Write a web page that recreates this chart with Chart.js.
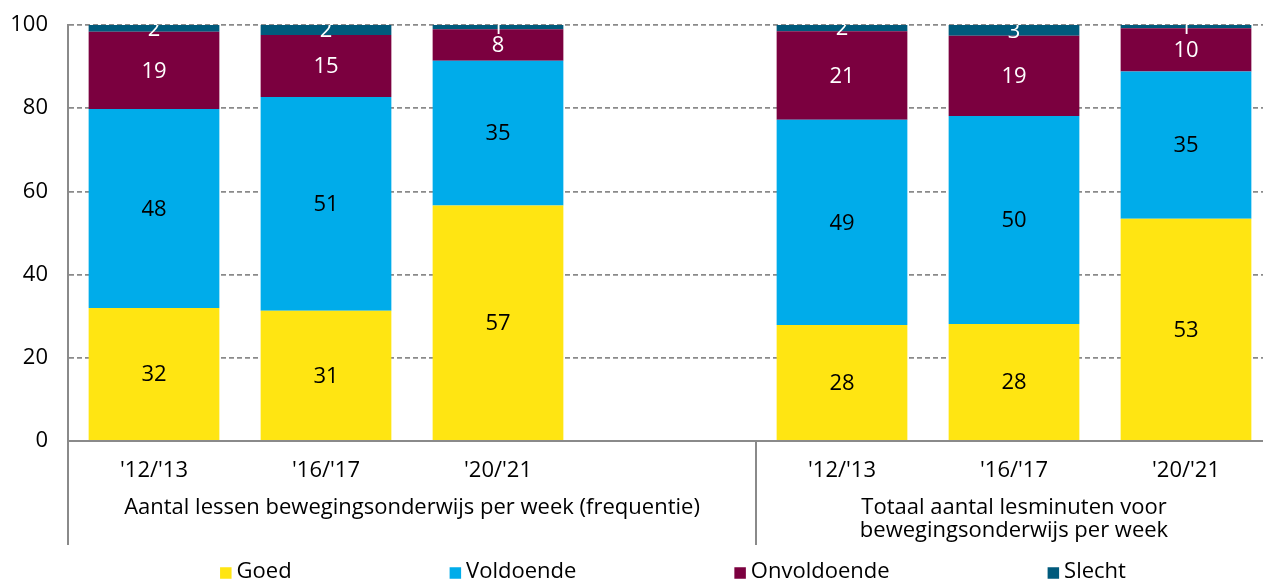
<!DOCTYPE html>
<html>
<head>
<meta charset="utf-8">
<script src="https://cdn.jsdelivr.net/npm/chart.js@4"></script>
<style>
  html, body { margin: 0; padding: 0; overflow: hidden; background: #fff; }
  #wrap { position: absolute; left: 0; top: 0; width: 1346px; height: 581px; }
</style>
</head>
<body>
<div id="wrap"><canvas id="grafiek"></canvas></div>
<script>
// --- Data ---
const jaren = ["'12/'13", "'16/'17", "'20/'21", "", "'12/'13", "'16/'17", "'20/'21"];
const groepen = [
  { label: ["Aantal lessen bewegingsonderwijs per week (frequentie)"], van: 0, tot: 3 },
  { label: ["Totaal aantal lesminuten voor", "bewegingsonderwijs per week"], van: 4, tot: 6 }
];
const goed        = [32.0, 31.3, 56.6, null, 27.9, 28.1, 53.4];
const voldoende   = [47.8, 51.4, 34.8, null, 49.3, 50.0, 35.4];
const onvoldoende = [18.6, 14.9,  7.6, null, 21.3, 19.3, 10.4];
const slecht      = [ 1.6,  2.4,  1.0, null,  1.5,  2.6,  0.8];
const yTicks = [0, 20, 40, 60, 80, 100];

const lettertype = "'Open Sans', 'Noto Sans', sans-serif";
const grijs = "#8a8a8a";

// labels midden in elk segment, afgeknipt op het grafiekgebied
const segmentLabels = {
  id: "segmentLabels",
  afterDatasetsDraw(chart) {
    const ctx = chart.ctx;
    const area = chart.chartArea;
    ctx.save();
    ctx.beginPath();
    ctx.rect(area.left, area.top, area.right - area.left, area.bottom - area.top);
    ctx.clip();
    ctx.font = "22px " + lettertype;
    ctx.textAlign = "center";
    ctx.textBaseline = "middle";
    chart.data.datasets.forEach((ds, i) => {
      const meta = chart.getDatasetMeta(i);
      meta.data.forEach((bar, j) => {
        const v = ds.data[j];
        if (v == null) return;
        const p = bar.getProps(["x", "y", "base"], true);
        ctx.fillStyle = ds.labelKleur;
        ctx.fillText(Math.round(v), p.x, (p.y + p.base) / 2 + 1);
      });
    });
    ctx.restore();
  }
};

// groepslabels onder de x-as, scheidingslijnen en legenda
const groepLabels = {
  id: "groepLabels",
  afterDraw(chart) {
    const ctx = chart.ctx;
    const x = chart.scales.x;
    const slot = x.width / jaren.length;
    const onder = chart.chartArea.bottom;
    ctx.save();
    ctx.strokeStyle = grijs;
    ctx.lineWidth = 2;
    ctx.font = "22px " + lettertype;
    ctx.fillStyle = "#000";
    ctx.textAlign = "center";
    ctx.textBaseline = "middle";
    groepen.forEach(g => {
      const links = x.getPixelForValue(g.van) - slot / 2;
      const rechts = x.getPixelForValue(g.tot) + slot / 2;
      [links, rechts].forEach(px => {
        ctx.beginPath();
        ctx.moveTo(px, onder);
        ctx.lineTo(px, onder + 104);
        ctx.stroke();
      });
      g.label.forEach((regel, k) => {
        ctx.fillText(regel, (links + rechts) / 2, onder + 67 + k * 23);
      });
    });

    // legenda
    const ds = chart.data.datasets;
    const doos = 11.5, tussen = 5, afstand = 158;
    const breedtes = ds.map(d => ctx.measureText(d.label).width);
    const totaal = breedtes.reduce((a, b) => a + b, 0) + ds.length * (doos + tussen) + (ds.length - 1) * afstand;
    let lx = (x.getPixelForValue(0) - slot / 2 + x.getPixelForValue(jaren.length - 1) + slot / 2) / 2 - totaal / 2 + 3;
    const ly = onder + 131;
    ctx.textAlign = "left";
    ds.forEach((d, i) => {
      ctx.fillStyle = d.backgroundColor;
      ctx.fillRect(lx, ly - doos / 2 + 1, doos, doos);
      ctx.fillStyle = "#000";
      ctx.fillText(d.label, lx + doos + tussen, ly);
      lx += doos + tussen + breedtes[i] + afstand;
    });
    ctx.restore();
  }
};

new Chart(document.getElementById("grafiek"), {
  type: "bar",
  data: {
    labels: jaren,
    datasets: [
      { label: "Goed", data: goed, backgroundColor: "#ffe512", labelKleur: "#000" },
      { label: "Voldoende", data: voldoende, backgroundColor: "#00acea", labelKleur: "#000" },
      { label: "Onvoldoende", data: onvoldoende, backgroundColor: "#7b003f", labelKleur: "#fff" },
      { label: "Slecht", data: slecht, backgroundColor: "#005a7c", labelKleur: "#fff" }
    ]
  },
  options: {
    responsive: true,
    maintainAspectRatio: false,
    animation: false,
    layout: { padding: { top: 25, right: 74, left: 0, bottom: 36 } },
    datasets: { bar: { categoryPercentage: 1, barPercentage: 0.76, borderWidth: 0 } },
    scales: {
      x: {
        stacked: true,
        grid: { display: false },
        border: { display: true, color: grijs, width: 2 },
        ticks: { color: "#000", font: { family: lettertype, size: 22 }, padding: 9, maxRotation: 0 },
        afterFit(scale) { scale.height = 104; }
      },
      y: {
        stacked: true,
        min: 0,
        max: 100,
        afterBuildTicks(scale) { scale.ticks = yTicks.map(v => ({ value: v })); },
        grid: { color: grijs, lineWidth: 1.8, drawTicks: false },
        border: { display: true, color: grijs, width: 2, dash: [5, 3] },
        ticks: { color: "#000", font: { family: lettertype, size: 22 }, padding: 20 },
        afterFit(scale) {
          scale.width = 68;
          scale.paddingTop = 0;
          scale.paddingBottom = 0;
        }
      }
    },
    plugins: {
      legend: { display: false },
      tooltip: { enabled: false }
    }
  },
  plugins: [segmentLabels, groepLabels]
});
</script>
</body>
</html>
